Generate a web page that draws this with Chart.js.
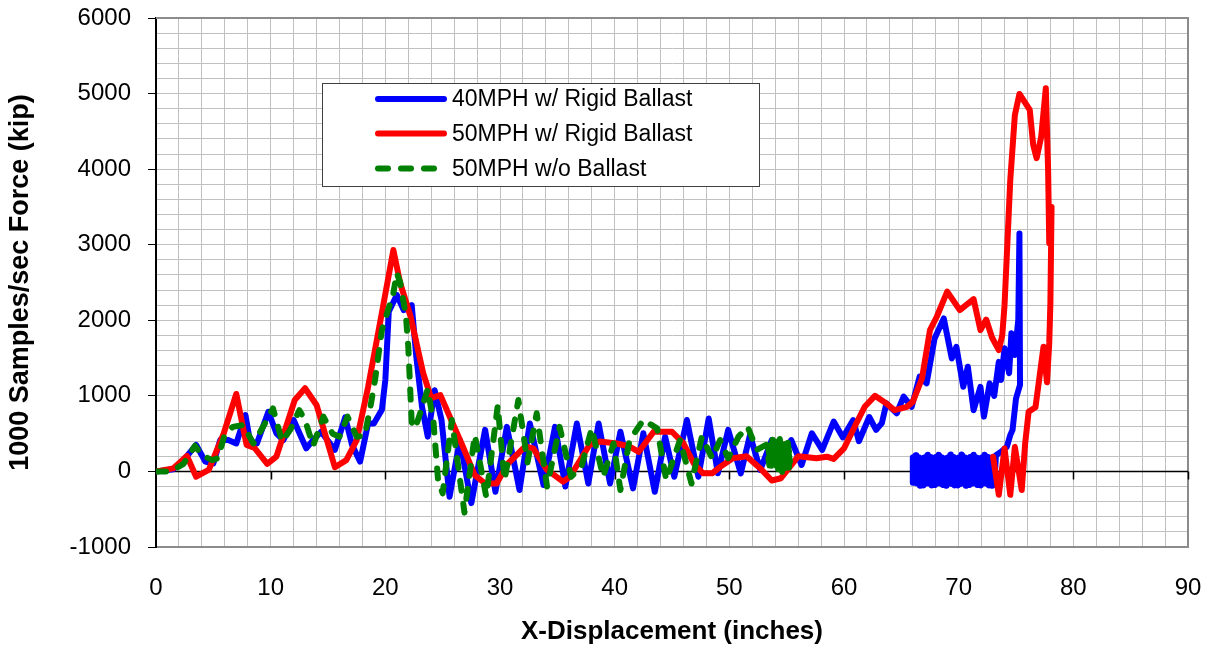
<!DOCTYPE html>
<html>
<head>
<meta charset="utf-8">
<title>Force vs X-Displacement</title>
<script src="https://cdn.jsdelivr.net/npm/chart.js@4.4.1/dist/chart.umd.min.js"></script>
<style>
  html, body { margin: 0; padding: 0; background: #fff; }
  #wrap { width: 1211px; height: 647px; }
</style>
</head>
<body>
<div id="wrap"><canvas id="grafico" width="1211" height="647"></canvas></div>
<script>
const serieNomes = ['40MPH w/ Rigid Ballast', '50MPH w/ Rigid Ballast', '50MPH w/o Ballast'];
const serieCores = ['#0000ff', '#ff0000', '#008000'];

// 40MPH w/ Rigid Ballast
const azulX = [0, 1.5, 2.4, 3.5, 4.3, 5.0, 5.6, 6.3, 7.0, 7.8, 8.2, 8.8, 9.8, 10.5, 11.1, 12.0, 13.1, 13.7, 14.4, 15.6,
  16.5, 17.1, 17.8, 18.5, 19.0, 19.7, 20.0, 20.3, 21.0, 21.6, 22.3, 22.7, 23.2, 23.7, 24.3, 24.9, 25.6, 26.5, 27.5, 28.7,
  29.6, 30.6, 31.7, 32.6, 33.8, 34.8, 35.7, 36.7, 37.7, 38.6, 39.6, 40.5, 41.6, 42.5, 43.5, 44.4, 45.2, 46.3, 47.3, 48.2,
  49.0, 49.9, 51.0, 51.8, 52.7, 53.7, 54.5, 55.4, 56.3, 57.2, 58.1, 59.1, 59.9, 60.8, 61.3, 62.2, 62.8, 63.3, 63.7, 64.6,
  65.2, 65.9, 66.6, 67.2, 67.9, 68.7, 69.4, 69.8, 70.4, 70.8, 71.3, 71.9, 72.2, 72.7, 73.1, 73.5, 73.7, 74.0, 74.4, 74.6,
  74.9, 75.2, 75.3, 75.35, 75.0, 74.7, 74.5, 74.2, 73.7,
  73.25, 73.125, 73.0, 72.875, 72.75, 72.625, 72.5, 72.375,
  72.25, 72.125, 72.0, 71.875, 71.75, 71.625, 71.5, 71.375,
  71.25, 71.125, 71.0, 70.875, 70.75, 70.625, 70.5, 70.375,
  70.25, 70.125, 70.0, 69.875, 69.75, 69.625, 69.5, 69.375,
  69.25, 69.125, 69.0, 68.875, 68.75, 68.625, 68.5, 68.375,
  68.25, 68.125, 68.0, 67.875, 67.75, 67.625, 67.5, 67.375,
  67.25, 67.125, 67.0, 66.875, 66.75, 66.625, 66.5, 66.375,
  66.25, 66.125, 66.0, 66.0,
  66.0625, 66.1875, 66.3125, 66.4375, 66.5625, 66.6875, 66.8125, 66.9375,
  67.0625, 67.1875, 67.3125, 67.4375, 67.5625, 67.6875, 67.8125, 67.9375,
  68.0625, 68.1875, 68.3125, 68.4375, 68.5625, 68.6875, 68.8125, 68.9375,
  69.0625, 69.1875, 69.3125, 69.4375, 69.5625, 69.6875, 69.8125, 69.9375,
  70.0625, 70.1875, 70.3125, 70.4375, 70.5625, 70.6875, 70.8125, 70.9375,
  71.0625, 71.1875, 71.3125, 71.4375, 71.5625, 71.6875, 71.8125, 71.9375,
  72.0625, 72.1875, 72.3125, 72.4375, 72.5625, 72.6875, 72.8125, 72.9375,
  73.0625, 73.1875];
const azulY = [0, 30, 150, 350, 130, 105, 415, 415, 370, 745, 395, 370, 790, 505, 415, 680, 305, 415, 525, 285,
  715, 350, 130, 635, 635, 815, 1210, 2115, 2335, 2135, 2200, 1520, 855, 460, 1075, 680, -335, 415, -420, 550,
  -270, 590, -245, 635, -180, 590, -200, 635, -160, 635, -160, 525, -225, 505, -270, 460, -70, 680, -70, 700,
  -25, 550, -25, 480, 20, 415, 130, 415, 85, 505, 285, 660, 450, 680, 400, 720, 550, 640, 900, 770,
  990, 855, 1255, 1165, 1760, 2025, 1495, 1650, 1120, 1385, 810, 1120, 725, 1165, 1000, 1450, 1210, 1630, 1300, 1830,
  1540, 2005, 3150, 1145, 965, 550, 480, 325, 260,
  215, -130, 190, -160, 150, -185, 180, -160,
  220, -135, 185, -165, 145, -180, 185, -155,
  210, -125, 190, -160, 155, -190, 180, -160,
  225, -130, 185, -155, 150, -185, 190, -165,
  215, -140, 180, -160, 145, -180, 185, -160,
  220, -130, 190, -165, 155, -185, 180, -155,
  210, -135, 185, -160, 150, -190, 185, -160,
  215, -130, 185, -150,
  190, -150, 215, -130, 185, -160, 150, -185,
  180, -160, 220, -135, 190, -165, 145, -180,
  185, -155, 210, -125, 185, -160, 155, -190,
  180, -160, 225, -130, 190, -155, 150, -185,
  185, -165, 215, -140, 185, -160, 145, -180,
  180, -160, 220, -130, 185, -165, 155, -185,
  185, -155, 210, -135, 190, -160, 150, -190,
  185, -160];

// 50MPH w/ Rigid Ballast
const vermelhoX = [0, 1.5, 2.7, 3.5, 4.6, 5.9, 7.0, 7.9, 8.6, 9.7, 10.5, 12.1, 13.0, 14.0, 15.6, 16.6, 17.5, 18.5, 19.7, 20.7,
  21.3, 22.2, 23.3, 24.0, 24.8, 25.8, 26.7, 27.8, 28.7, 29.7, 30.7, 32.2, 32.9, 34.1, 35.5, 36.1, 37.8, 38.7, 40.2, 41.3,
  42.1, 43.4, 45.0, 46.0, 46.9, 47.7, 48.5, 49.2, 50.3, 51.5, 52.7, 53.7, 54.5, 56.0, 57.6, 58.5, 59.1, 60.0, 61.0, 61.8,
  62.7, 63.7, 64.4, 65.5, 66.0, 66.8, 67.5, 68.1, 69.0, 70.1, 71.3, 71.9, 72.4, 72.9, 73.5, 73.8, 74.0, 74.5, 74.9, 75.3,
  76.2, 76.5, 76.8, 77.2, 77.6, 77.8, 77.9, 78.1, 78.0, 77.9, 77.7, 77.4, 76.7, 76.1, 75.8, 75.5, 74.9, 74.5, 74.0, 73.5,
  73.0];
const vermelhoY = [0, 40, 205, -70, 20, 500, 1025, 350, 310, 100, 195, 945, 1100, 880, 55, 150, 415, 1120, 2100, 2930,
  2490, 2050, 1300, 970, 1010, 660, 350, -50, -160, -160, 105, 330, 305, 20, -135, -70, 350, 395, 370, 330,
  260, 525, 525, 370, 105, -25, -25, 60, 175, 200, 40, -120, -90, 200, 175, 195, 165, 305, 615, 855,
  1000, 900, 810, 855, 920, 1230, 1870, 2050, 2380, 2135, 2280, 1870, 2010, 1775, 1605, 1800, 2200, 3855, 4715, 4995,
  4785, 4320, 4145, 4430, 5070, 3990, 3020, 3500, 2230, 1700, 1180, 1650, 850, 790, 370, -245, 325, -310, 305, -310,
  195];

// 50MPH w/o Ballast
const verdeX = [0, 1.3, 2.4, 3.4, 4.0, 4.9, 5.4, 6.0, 6.7, 7.6, 8.5, 9.5, 10.2, 11.0, 11.7, 12.5, 13.0, 13.7, 14.6, 15.4,
  16.0, 16.7, 17.5, 18.2, 18.7, 19.1, 19.7, 20.7, 21.0, 21.3, 21.8, 22.0, 22.3, 22.6, 23.1, 23.7, 24.2, 24.6, 25.0, 25.8,
  26.4, 26.9, 27.8, 28.8, 29.8, 30.4, 31.6, 32.4, 33.2, 34.1, 35.2, 36.2, 37.1, 38.0, 39.0, 39.9, 40.5, 41.3, 42.5, 43.7,
  44.5, 45.7, 46.7, 47.6, 48.5, 49.2, 49.9, 50.8, 51.6, 52.4, 53.2,
  53.5, 53.8, 54.1, 54.4, 54.7, 55.0, 55.3, 55.1, 54.85, 54.55, 54.25, 53.95, 53.65, 53.4, 53.7, 54.0, 54.3, 54.6, 54.9, 55.2,
  55.3, 55.0, 54.7, 54.4];
const verdeY = [0, 0, 100, 340, 215, 150, 175, 490, 590, 615, 370, 635, 835, 395, 550, 810, 680, 340, 725, 500,
  460, 725, 460, 470, 855, 1210, 1870, 2360, 2625, 2500, 2050, 1650, 650, 570, 800, 1090, 650, -115, -290, 680,
  20, -545, 480, -335, 870, -115, 945, 120, 770, -200, 590, -70, 60, 570, -70, 370, -245, 415, 680, 570,
  -115, 415, -160, 460, 175, 415, 175, 460, 590, 285, 350,
  80, 450, 40, 430, 60, 400, 120, 380, 20, 420, 30, 400, 60, 300, 420, 100, 380, -10, 330, 50,
  300, 180, 350, 120];

const fonte = '"Liberation Sans", Arial, sans-serif';

function montarPontos(xs, ys) {
    return xs.map((x, i) => ({ x: x, y: ys[i] }));
}

// moldura cinza, linha do zero com marcas e legenda
const extras = {
    id: 'extras',
    beforeDatasetsDraw(chart) {
        const { ctx, chartArea: a, scales } = chart;
        ctx.save();
        ctx.strokeStyle = '#8c8c8c';
        ctx.lineWidth = 2;
        ctx.beginPath();
        ctx.moveTo(a.left, a.top);
        ctx.lineTo(a.right, a.top);
        ctx.lineTo(a.right, a.bottom);
        ctx.stroke();

        const y0 = Math.round(scales.y.getPixelForValue(0)) + 0.5;
        ctx.strokeStyle = '#000';
        ctx.lineWidth = 1.5;
        ctx.beginPath();
        ctx.moveTo(a.left, y0);
        ctx.lineTo(a.right, y0);
        for (let v = 10; v <= 90; v += 10) {
            const px = Math.round(scales.x.getPixelForValue(v)) + 0.5;
            ctx.moveTo(px, y0);
            ctx.lineTo(px, y0 + 8);
        }
        ctx.stroke();
        ctx.restore();
    },
    afterDatasetsDraw(chart) {
        const ctx = chart.ctx;
        ctx.save();
        ctx.fillStyle = '#fff';
        ctx.fillRect(322, 83, 437, 103);
        ctx.strokeStyle = '#404040';
        ctx.lineWidth = 1;
        ctx.strokeRect(322.5, 83.5, 437, 103);
        const linhas = [99, 133.5, 168.5];
        ctx.font = '23px ' + fonte;
        ctx.textBaseline = 'middle';
        ctx.lineCap = 'round';
        chart.data.datasets.forEach((ds, i) => {
            const y = linhas[i];
            ctx.strokeStyle = ds.borderColor;
            ctx.lineWidth = 6;
            ctx.setLineDash(ds.borderDash || []);
            ctx.beginPath();
            ctx.moveTo(378, y);
            ctx.lineTo(444, y);
            ctx.stroke();
            ctx.setLineDash([]);
            ctx.fillStyle = '#000';
            ctx.fillText(ds.label, 452, y + 1);
        });
        ctx.restore();
    }
};

function semSobras(s) {
    s.paddingTop = 0;
    s.paddingBottom = 0;
    s.paddingLeft = 0;
    s.paddingRight = 0;
}

const ctx = document.getElementById('grafico').getContext('2d');

window.meuGrafico = new Chart(ctx, {
    type: 'scatter',
    data: {
        datasets: [
            {
                label: serieNomes[0],
                data: montarPontos(azulX, azulY),
                borderColor: serieCores[0],
                order: 3
            },
            {
                label: serieNomes[1],
                data: montarPontos(vermelhoX, vermelhoY),
                borderColor: serieCores[1],
                order: 2
            },
            {
                label: serieNomes[2],
                data: montarPontos(verdeX, verdeY),
                borderColor: serieCores[2],
                borderDash: [10, 13],
                order: 1
            }
        ]
    },
    options: {
        responsive: false,
        animation: false,
        layout: { padding: { top: 18, right: 23, left: 0, bottom: 0 } },
        elements: {
            point: { radius: 0, hoverRadius: 0 },
            line: { tension: 0, borderWidth: 6, borderCapStyle: 'round', borderJoinStyle: 'round', fill: false }
        },
        datasets: { scatter: { showLine: true } },
        plugins: {
            legend: { display: false },
            tooltip: { enabled: false }
        },
        scales: {
            x: {
                type: 'linear',
                min: 0,
                max: 90,
                ticks: {
                    stepSize: 2,
                    maxTicksLimit: 100,
                    autoSkip: false,
                    maxRotation: 0,
                    padding: 27,
                    color: '#000',
                    font: { size: 24, family: fonte },
                    callback: v => (v % 10 === 0 ? v : '')
                },
                grid: { color: '#c0c0c0', lineWidth: 1, drawTicks: false },
                border: { color: '#8c8c8c', width: 2 },
                title: {
                    display: true,
                    text: 'X-Displacement (inches)',
                    color: '#000',
                    font: { size: 26, weight: 'bold', family: fonte },
                    padding: { top: 0, bottom: 0 }
                },
                afterFit: s => { s.height = 100; semSobras(s); }
            },
            y: {
                type: 'linear',
                min: -1000,
                max: 6000,
                ticks: {
                    stepSize: 200,
                    maxTicksLimit: 100,
                    autoSkip: false,
                    padding: 17,
                    color: '#000',
                    font: { size: 24, family: fonte },
                    callback: v => (v % 1000 === 0 ? v : '')
                },
                grid: {
                    color: '#c0c0c0',
                    lineWidth: 1,
                    tickLength: 8,
                    tickColor: c => (c.tick && c.tick.value % 1000 === 0 ? '#000' : 'rgba(0,0,0,0)')
                },
                border: { color: '#000', width: 2 },
                title: {
                    display: true,
                    text: '1000 Samples/sec Force (kip)',
                    color: '#000',
                    font: { size: 27, weight: 'bold', family: fonte },
                    padding: { top: 4, bottom: 0 }
                },
                afterFit: s => { s.width = 156; semSobras(s); }
            }
        }
    },
    plugins: [extras]
});
</script>
</body>
</html>
